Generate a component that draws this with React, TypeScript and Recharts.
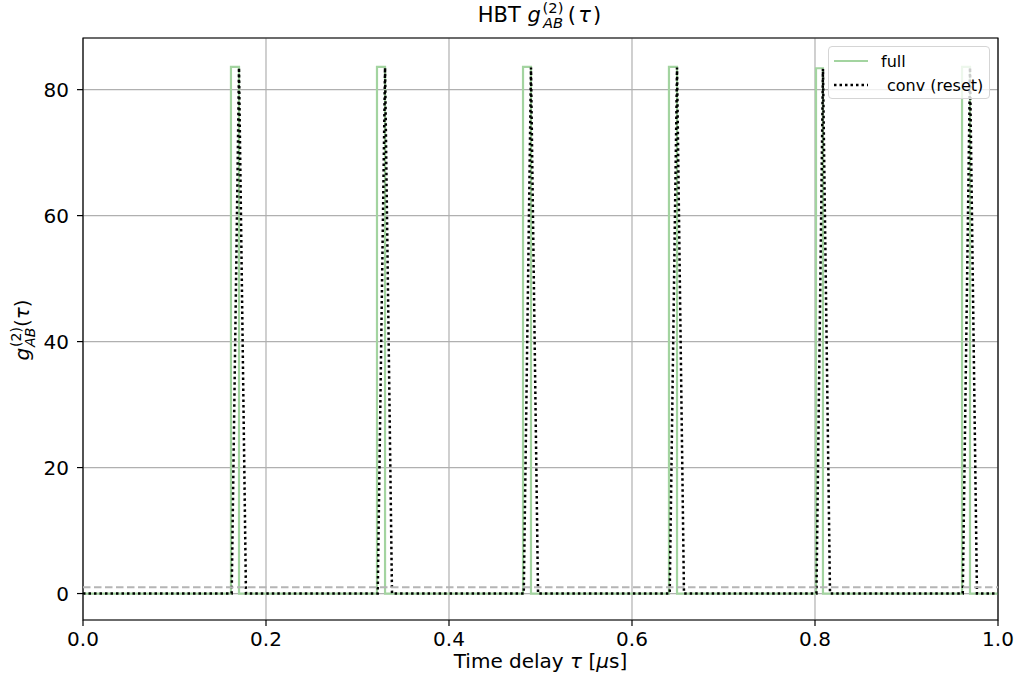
import React from "react"
import { LineChart, Line, XAxis, YAxis, CartesianGrid, ReferenceLine, ReferenceArea } from "recharts"

// peak edges (time in µs)
const fullRise = [0.1617, 0.3213, 0.4809, 0.6404, 0.8011, 0.9607]
const fullFall = [0.1705, 0.3301, 0.4896, 0.6492, 0.8087, 0.9694]
const fullHeight = [83.6, 83.6, 83.6, 83.6, 83.4, 83.6]

const convStart = [0.1625, 0.3221, 0.4817, 0.6412, 0.8016, 0.9615]
const convApex = [0.1705, 0.3301, 0.4896, 0.6492, 0.8087, 0.9694]
const convEnd = [0.1781, 0.3377, 0.4973, 0.6568, 0.8164, 0.977]
const convHeight = [83.5, 83.5, 83.5, 83.5, 83.3, 83.5]

const xTicks = [0, 0.2, 0.4, 0.6, 0.8, 1.0]
const yTicks = [0, 20, 40, 60, 80]
const yDomain = [-4.2, 88.2]
const baseline = 1

const FONT = "'DejaVu Sans', sans-serif"
const GREEN = "#a3d4a0"

const fullData = (() => {
  const pts = [{ x: 0, y: 0 }]
  fullRise.forEach((r, i) => {
    pts.push({ x: r, y: 0 }, { x: r, y: fullHeight[i] }, { x: fullFall[i], y: fullHeight[i] }, { x: fullFall[i], y: 0 })
  })
  pts.push({ x: 1, y: 0 })
  return pts
})()

const convData = (() => {
  const pts = [{ x: 0, y: 0 }]
  convStart.forEach((s, i) => {
    pts.push({ x: s, y: 0 }, { x: convApex[i], y: convHeight[i] }, { x: convEnd[i], y: 0 })
  })
  pts.push({ x: 1, y: 0 })
  return pts
})()

function G2({ wide = false }: { wide?: boolean }) {
  return (
    <span>
      <span style={{ fontStyle: "italic" }}>g</span>
      <span
        style={{
          display: "inline-flex",
          flexDirection: "column",
          fontSize: "0.7em",
          lineHeight: 1,
          verticalAlign: "middle",
          marginLeft: wide ? "0.12em" : 1,
          marginRight: wide ? "0.3em" : 0,
        }}
      >
        <span>(2)</span>
        <span style={{ fontStyle: "italic" }}>AB</span>
      </span>
      <span style={{ letterSpacing: wide ? "0.1em" : 0 }}>
        (<span style={{ fontStyle: "italic" }}>τ</span>)
      </span>
    </span>
  )
}

export default function App() {
  return (
    <div style={{ position: "absolute", left: 0, top: 0, width: 1024, height: 685, background: "#fff", fontFamily: FONT }}>
      <LineChart width={1024} height={685} data={fullData} margin={{ top: 38, right: 26, bottom: 0, left: 0 }}>
        <CartesianGrid stroke="#b0b0b0" strokeWidth={1.2} />
        <XAxis
          dataKey="x"
          type="number"
          domain={[0, 1]}
          ticks={xTicks}
          allowDataOverflow
          height={65}
          axisLine={false}
          tickLine={{ stroke: "#000", strokeWidth: 1.2 }}
          tickSize={6}
          tickMargin={6}
          tick={{ fill: "#000", fontSize: 20, fontFamily: FONT }}
          tickFormatter={(v) => v.toFixed(1)}
        />
        <YAxis
          type="number"
          domain={yDomain}
          ticks={yTicks}
          allowDataOverflow
          width={83}
          axisLine={false}
          tickLine={{ stroke: "#000", strokeWidth: 1.2 }}
          tickSize={6}
          tickMargin={8}
          tick={{ fill: "#000", fontSize: 20, fontFamily: FONT }}
        />
        <Line
          data={fullData}
          dataKey="y"
          type="linear"
          stroke={GREEN}
          strokeWidth={2.2}
          dot={false}
          activeDot={false}
          isAnimationActive={false}
        />
        <Line
          data={convData}
          dataKey="y"
          type="linear"
          stroke="#000"
          strokeWidth={2.5}
          strokeDasharray="2.5 3"
          dot={false}
          activeDot={false}
          isAnimationActive={false}
        />
        <ReferenceLine y={baseline} stroke="#b5b5b5" strokeWidth={2} strokeDasharray="7.5 3.5" />
        <ReferenceArea x1={0} x2={1} y1={yDomain[0]} y2={yDomain[1]} fill="none" fillOpacity={0} stroke="#000" strokeWidth={1.2} />
      </LineChart>

      {/* title */}
      <div style={{ position: "absolute", left: 83, width: 915, top: 1, textAlign: "center", fontSize: 21, color: "#000", whiteSpace: "nowrap" }}>
        HBT&nbsp;<G2 wide />
      </div>

      {/* y label */}
      <div
        style={{
          position: "absolute",
          left: 23,
          top: 330,
          transform: "translate(-50%, -50%) rotate(-90deg)",
          fontSize: 20,
          whiteSpace: "nowrap",
          color: "#000",
        }}
      >
        <G2 />
      </div>

      {/* x label */}
      <div style={{ position: "absolute", left: 83, width: 915, top: 650, textAlign: "center", fontSize: 20, lineHeight: "23px", color: "#000" }}>
        Time delay <span style={{ fontStyle: "italic" }}>τ</span> [<span style={{ fontStyle: "italic" }}>μ</span>s]
      </div>

      {/* legend */}
      <div
        style={{
          position: "absolute",
          left: 828,
          top: 46,
          width: 162,
          height: 53,
          boxSizing: "border-box",
          border: "1px solid #d5d5d5",
          borderRadius: 4,
          background: "rgba(255,255,255,0.8)",
          fontSize: 16,
          color: "#000",
        }}
      >
        <div style={{ position: "absolute", left: 5, top: 4, display: "flex", alignItems: "center", height: 20 }}>
          <svg width={34} height={6}>
            <line x1={0} y1={3} x2={34} y2={3} stroke={GREEN} strokeWidth={2.2} />
          </svg>
          <span style={{ marginLeft: 13 }}>full</span>
        </div>
        <div style={{ position: "absolute", left: 5, top: 28, display: "flex", alignItems: "center", height: 20 }}>
          <svg width={34} height={6}>
            <line x1={0} y1={3} x2={34} y2={3} stroke="#000" strokeWidth={2.5} strokeDasharray="2.5 3" />
          </svg>
          <span style={{ marginLeft: 19 }}>conv (reset)</span>
        </div>
      </div>
    </div>
  )
}
